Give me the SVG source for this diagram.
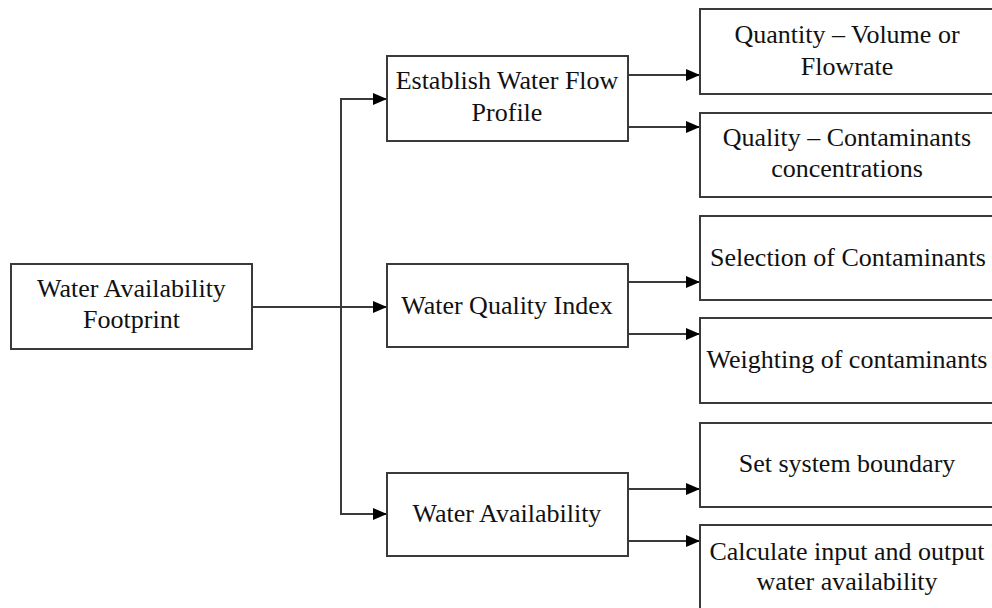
<svg xmlns="http://www.w3.org/2000/svg" width="992" height="608" viewBox="0 0 992 608">
<style>
  .box { fill: #ffffff; stroke: #3a3a3a; stroke-width: 2; }
  .lbl { font-family: "Liberation Serif", "Times New Roman", serif; font-size: 26px; fill: #111111; text-anchor: middle; }
  .con { fill: none; stroke: #3a3a3a; stroke-width: 2; }
</style>
<defs>
  <marker id="arr" viewBox="0 0 14 12" refX="14" refY="6" markerWidth="14" markerHeight="12" markerUnits="userSpaceOnUse" orient="auto">
    <path d="M0,0 L14,6 L0,12 Z" fill="#000000"/>
  </marker>
</defs>
<rect width="992" height="608" fill="#ffffff"/>

<g id="connectors">
  <path class="con" d="M252,307 H387" marker-end="url(#arr)"/>
  <path class="con" d="M341,307 V99 H387" marker-end="url(#arr)"/>
  <path class="con" d="M341,307 V514 H387" marker-end="url(#arr)"/>
  <path class="con" d="M628,75 H700" marker-end="url(#arr)"/>
  <path class="con" d="M628,127 H700" marker-end="url(#arr)"/>
  <path class="con" d="M628,282 H700" marker-end="url(#arr)"/>
  <path class="con" d="M628,334 H700" marker-end="url(#arr)"/>
  <path class="con" d="M628,489 H700" marker-end="url(#arr)"/>
  <path class="con" d="M628,541 H700" marker-end="url(#arr)"/>
</g>

<g id="footprint">
  <rect class="box" x="11" y="264" width="241" height="85"/>
  <text class="lbl" x="131.5" y="297">Water Availability</text>
  <text class="lbl" x="131.5" y="328">Footprint</text>
</g>

<g id="flow-profile">
  <rect class="box" x="387" y="56" width="241" height="85"/>
  <text class="lbl" x="507" y="89">Establish Water Flow</text>
  <text class="lbl" x="507" y="121">Profile</text>
</g>

<g id="wqi">
  <rect class="box" x="387" y="264" width="241" height="83"/>
  <text class="lbl" x="507" y="314">Water Quality Index</text>
</g>

<g id="water-availability">
  <rect class="box" x="387" y="473" width="241" height="83"/>
  <text class="lbl" x="507" y="522">Water Availability</text>
</g>

<g id="quantity">
  <rect class="box" x="700" y="9" width="296" height="85"/>
  <text class="lbl" x="847" y="43">Quantity – Volume or</text>
  <text class="lbl" x="847" y="75">Flowrate</text>
</g>

<g id="quality">
  <rect class="box" x="700" y="113" width="296" height="84"/>
  <text class="lbl" x="847" y="146">Quality – Contaminants</text>
  <text class="lbl" x="847" y="177">concentrations</text>
</g>

<g id="selection">
  <rect class="box" x="700" y="216" width="296" height="84"/>
  <text class="lbl" x="848" y="266">Selection of Contaminants</text>
</g>

<g id="weighting">
  <rect class="box" x="700" y="318" width="296" height="85"/>
  <text class="lbl" x="847" y="368">Weighting of contaminants</text>
</g>

<g id="boundary">
  <rect class="box" x="700" y="423" width="296" height="84"/>
  <text class="lbl" x="847" y="472">Set system boundary</text>
</g>

<g id="calculate">
  <rect class="box" x="700" y="525" width="296" height="95"/>
  <text class="lbl" x="847" y="560">Calculate input and output</text>
  <text class="lbl" x="847" y="590">water availability</text>
</g>
</svg>
